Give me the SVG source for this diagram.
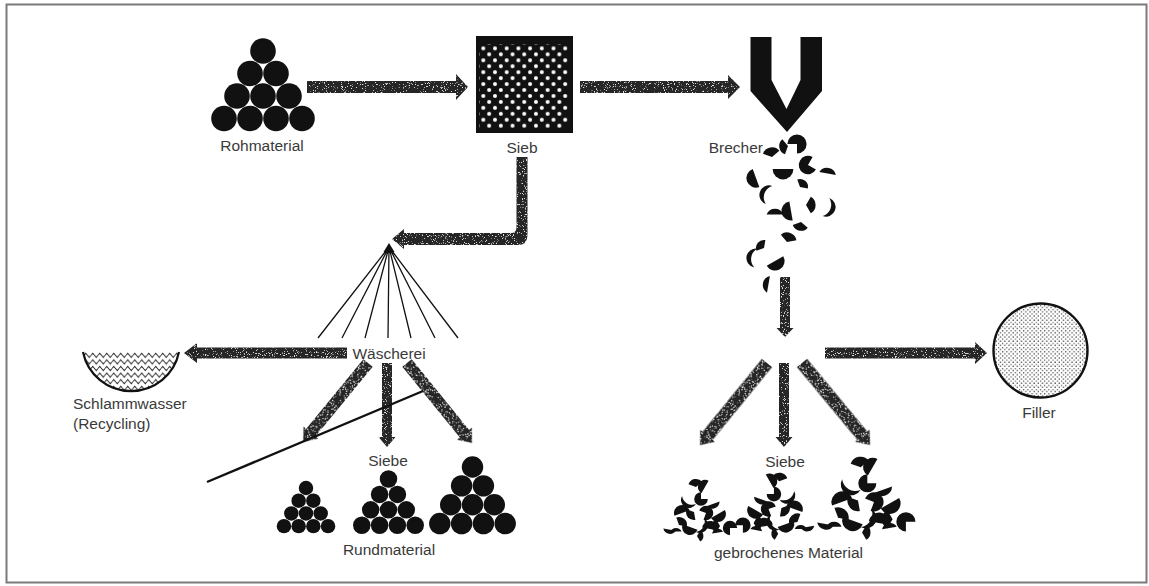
<svg xmlns="http://www.w3.org/2000/svg" xmlns:xlink="http://www.w3.org/1999/xlink" width="1149" height="586" viewBox="0 0 1149 586">
  <style>
    .lbl { font-family: "Liberation Sans", Arial, sans-serif; font-size: 15.5px; fill: #3a3a3a; }
    .mid { text-anchor: middle; }
    .arrow { fill: #262626; filter: url(#grain); }
    .ball { fill: #111; }
    .frag { fill: #111; }
    .ray { stroke: #111; stroke-width: 1.3; fill: none; }
  </style>
  <defs>
    <!-- speckled print texture for the flow arrows -->
    <filter id="grain" x="-10%" y="-10%" width="120%" height="120%">
      <feTurbulence type="fractalNoise" baseFrequency="0.9" numOctaves="2" seed="7" result="noise"/>
      <feColorMatrix in="noise" type="matrix" values="0 0 0 0 0.75  0 0 0 0 0.75  0 0 0 0 0.75  10 0 0 0 -6.2" result="specks"/>
      <feComposite in="specks" in2="SourceAlpha" operator="in" result="dots"/>
      <feMerge><feMergeNode in="SourceGraphic"/><feMergeNode in="dots"/></feMerge>
    </filter>
    <!-- perforated screen plate -->
    <pattern id="holes" patternUnits="userSpaceOnUse" x="480.4" y="45.4" width="11.7" height="11.9">
      <circle cx="2.9" cy="2.9" r="2" fill="#fff"/>
      <circle cx="8.75" cy="8.85" r="2" fill="#fff"/>
    </pattern>
    <!-- fine stipple for the filler -->
    <pattern id="stipple" patternUnits="userSpaceOnUse" width="4.2" height="4.2">
      <circle cx="1" cy="1" r="0.7" fill="#444"/>
      <circle cx="3.1" cy="3.2" r="0.7" fill="#444"/>
    </pattern>
    <!-- wavy water -->
    <pattern id="waves" patternUnits="userSpaceOnUse" x="0" y="352" width="7" height="6.6">
      <path d="M0,3.3 L1.75,1.3 L3.5,3.3 L5.25,5.3 L7,3.3" fill="none" stroke="#222" stroke-width="1"/>
    </pattern>
    <clipPath id="bowlClip">
      <path d="M83,352 A49,49 0 0 0 179,352 Z"/>
    </clipPath>
    <!-- pile of ten round grains, apex at origin -->
    <g id="pile">
      <circle class="ball" cx="0" cy="0" r="12.8"/>
      <circle class="ball" cx="-13" cy="22.5" r="12.8"/>
      <circle class="ball" cx="13" cy="22.5" r="12.8"/>
      <circle class="ball" cx="-26" cy="45" r="12.8"/>
      <circle class="ball" cx="0" cy="45" r="12.8"/>
      <circle class="ball" cx="26" cy="45" r="12.8"/>
      <circle class="ball" cx="-39" cy="67.5" r="12.8"/>
      <circle class="ball" cx="-13" cy="67.5" r="12.8"/>
      <circle class="ball" cx="13" cy="67.5" r="12.8"/>
      <circle class="ball" cx="39" cy="67.5" r="12.8"/>
    </g>
    <!-- broken grain shapes -->
    <path id="fH" class="frag" d="M-8,0 A8,8 0 0 0 8,0 Z"/>
    <path id="fQ" class="frag" d="M0,0 L8,0 A8,8 0 0 1 -4,6.93 Z"/>
    <path id="fT" class="frag" d="M0,0 L8,0 A8,8 0 1 1 0,-8 Z"/>
    <path id="fS" class="frag" d="M-7,3 A7.6,7.6 0 0 0 7,3 Z"/>
    <path id="fC" class="frag" d="M-8,0 A8,8 0 0 0 8,0 A10,10 0 0 1 -8,0 Z"/>
    <!-- pile of crushed grains, apex at origin -->
    <g id="crushed">
      <use xlink:href="#fQ" transform="translate(-4,4) rotate(200)"/>
      <use xlink:href="#fH" transform="translate(5,4) rotate(120) scale(.9)"/>
      <use xlink:href="#fC" transform="translate(-11,17) rotate(30)"/>
      <use xlink:href="#fT" transform="translate(1,16) rotate(0) scale(.85)"/>
      <use xlink:href="#fS" transform="translate(12,18) rotate(-20)"/>
      <use xlink:href="#fH" transform="translate(-18,30) rotate(160)"/>
      <use xlink:href="#fQ" transform="translate(-6,29) rotate(80)"/>
      <use xlink:href="#fT" transform="translate(6,30) rotate(200) scale(.9)"/>
      <use xlink:href="#fH" transform="translate(18,31) rotate(-30)"/>
      <use xlink:href="#fS" transform="translate(-30,44) rotate(10) scale(.9)"/>
      <use xlink:href="#fQ" transform="translate(-21,42) rotate(250)"/>
      <use xlink:href="#fH" transform="translate(-10,44) rotate(20)"/>
      <use xlink:href="#fC" transform="translate(0,42) rotate(-60)"/>
      <use xlink:href="#fH" transform="translate(10,46) rotate(190)"/>
      <use xlink:href="#fQ" transform="translate(20,43) rotate(120)"/>
      <use xlink:href="#fT" transform="translate(30,45) rotate(90) scale(.9)"/>
      <use xlink:href="#fS" transform="translate(-24,51) rotate(180) scale(.8)"/>
      <use xlink:href="#fQ" transform="translate(-3,53) rotate(300) scale(.8)"/>
      <use xlink:href="#fS" transform="translate(18,52) rotate(170) scale(.8)"/>
    </g>
  </defs>

  <!-- frame -->
  <rect x="6.5" y="4.5" width="1140" height="578" fill="#fff" stroke="#7a7a7a" stroke-width="2"/>

  <!-- connectors -->
  <g id="connectors">
    <path class="arrow" d="M307,81 H456 V74 L468,87 L456,100 V93 H307 Z"/>
    <path class="arrow" d="M580,81 H728 V75 L740,87 L728,99 V93 H580 Z"/>
    <path class="arrow" d="M516.5,157 H527.5 V235 Q527.5,245 517.5,245 H404 V249 L392,239 L404,229 V233 H511 Q516.5,233 516.5,227 Z"/>
    <path class="arrow" d="M780,277 H790 V328 H793.5 L785,337 L776.5,328 H780 Z"/>
    <path class="arrow" d="M347,347.5 H197 V343 L184,353 L197,363 V358.5 H347 Z"/>
    <path class="arrow" d="M825,347.5 H975 V342 L987,353 L975,364 V358.5 H825 Z"/>
    <!-- washing outputs -->
    <path class="arrow" transform="translate(368,363) rotate(39.4)" d="M-6,0 H6 V90 H9.5 L0,102 L-9.5,90 H-6 Z"/>
    <path class="arrow" d="M382,363 H392 V437 H395.5 L387,447 L378.5,437 H382 Z"/>
    <path class="arrow" transform="translate(407,363) rotate(-39.1)" d="M-6,0 H6 V91 H9.5 L0,103 L-9.5,91 H-6 Z"/>
    <!-- crusher outputs -->
    <path class="arrow" transform="translate(767,363) rotate(39.2)" d="M-6.5,0 H6.5 V94 H9.5 L0,106 L-9.5,94 H-6.5 Z"/>
    <path class="arrow" d="M779,363 H789 V437 H792.5 L784,447 L775.5,437 H779 Z"/>
    <path class="arrow" transform="translate(802,363) rotate(-39.7)" d="M-6.5,0 H6.5 V94.5 H9.5 L0,106.5 L-9.5,94.5 H-6.5 Z"/>
    <!-- distribution rays of the washer -->
    <g id="fan">
      <path class="ray" d="M389,247 L318,338 M389,247 L342,338 M389,247 L365,338 M389,247 L388,338 M389,247 L411,338 M389,247 L435,338 M389,247 L458,338"/>
      <path d="M389,243 L383.5,252 L394.5,252 Z" fill="#111"/>
    </g>
    <line x1="207" y1="482" x2="423" y2="391" stroke="#111" stroke-width="2.4"/>
  </g>

  <!-- raw material -->
  <g id="rohmaterial">
    <use xlink:href="#pile" transform="translate(263,51)"/>
    <text class="lbl mid" x="262" y="150.5">Rohmaterial</text>
  </g>

  <!-- screen -->
  <g id="sieb">
    <rect x="476" y="36" width="97" height="97" fill="#111"/>
    <rect x="479" y="44" width="89" height="85" fill="url(#holes)"/>
    <text class="lbl mid" x="522" y="152.5">Sieb</text>
  </g>

  <!-- crusher with falling fragments -->
  <g id="brecher">
    <path d="M750.5,37 H771.5 V80 L786.5,109 L800.5,80 V37 H822 V91 L787,132 L750.5,91 Z" fill="#111"/>
    <text class="lbl" x="763" y="152.5" text-anchor="end">Brecher</text>
    <use xlink:href="#fT" transform="translate(797,144) rotate(180) scale(1.2)"/>
    <use xlink:href="#fQ" transform="translate(788,146) rotate(110) scale(1.1)"/>
    <use xlink:href="#fQ" transform="translate(772,157) rotate(200) scale(1.2)"/>
    <use xlink:href="#fH" transform="translate(756,178) rotate(70) scale(1.2)"/>
    <use xlink:href="#fH" transform="translate(783,169) rotate(0) scale(1.3)"/>
    <use xlink:href="#fT" transform="translate(808,165) rotate(30) scale(1.15)"/>
    <use xlink:href="#fS" transform="translate(827,177) rotate(190) scale(1.2)"/>
    <use xlink:href="#fQ" transform="translate(800,187) rotate(250) scale(1)"/>
    <use xlink:href="#fC" transform="translate(769,195) rotate(110) scale(1.2)"/>
    <use xlink:href="#fH" transform="translate(791,211) rotate(80) scale(1.2)"/>
    <use xlink:href="#fQ" transform="translate(806,205) rotate(300) scale(1.2)"/>
    <use xlink:href="#fC" transform="translate(826,207) rotate(-70) scale(1.2)"/>
    <use xlink:href="#fS" transform="translate(775,218) rotate(180) scale(1.2)"/>
    <use xlink:href="#fQ" transform="translate(801,222) rotate(40) scale(1.1)"/>
    <use xlink:href="#fQ" transform="translate(787,242) rotate(230) scale(1.2)"/>
    <use xlink:href="#fQ" transform="translate(764,248) rotate(160) scale(1)"/>
    <use xlink:href="#fC" transform="translate(756,258) rotate(100) scale(1.2)"/>
    <use xlink:href="#fH" transform="translate(775,261) rotate(330) scale(1.2)"/>
    <use xlink:href="#fS" transform="translate(772,285) rotate(100) scale(1.2)"/>
  </g>

  <!-- washer -->
  <g id="waescherei">
    <text class="lbl mid" x="389" y="358.5">Wäscherei</text>
  </g>

  <!-- sludge water -->
  <g id="schlammwasser">
    <rect x="80" y="350" width="102" height="45" fill="url(#waves)" clip-path="url(#bowlClip)"/>
    <path d="M83,352 A49,49 0 0 0 179,352" fill="none" stroke="#111" stroke-width="2.2"/>
    <text class="lbl" x="73" y="408.5">Schlammwasser</text>
    <text class="lbl" x="73" y="428.5">(Recycling)</text>
  </g>

  <!-- round material -->
  <g id="rundmaterial">
    <text class="lbl mid" x="388" y="465.5">Siebe</text>
    <use xlink:href="#pile" transform="translate(306,488) scale(.565)"/>
    <use xlink:href="#pile" transform="translate(388.5,479) scale(.685)"/>
    <use xlink:href="#pile" transform="translate(472.5,467) scale(.838)"/>
    <text class="lbl mid" x="389" y="554.5">Rundmaterial</text>
  </g>

  <!-- filler -->
  <g id="filler">
    <circle cx="1040.5" cy="350.5" r="47" fill="url(#stipple)" stroke="#111" stroke-width="2.4"/>
    <text class="lbl mid" x="1039" y="417.5">Filler</text>
  </g>

  <!-- crushed material -->
  <g id="gebrochenes">
    <text class="lbl mid" x="785" y="466.5">Siebe</text>
    <use xlink:href="#crushed" transform="translate(700,483)"/>
    <use xlink:href="#crushed" transform="translate(775,477) scale(-1.07,1.07)"/>
    <use xlink:href="#crushed" transform="translate(866,462) scale(1.33)"/>
    <text class="lbl mid" x="788.5" y="557.5">gebrochenes Material</text>
  </g>
</svg>
